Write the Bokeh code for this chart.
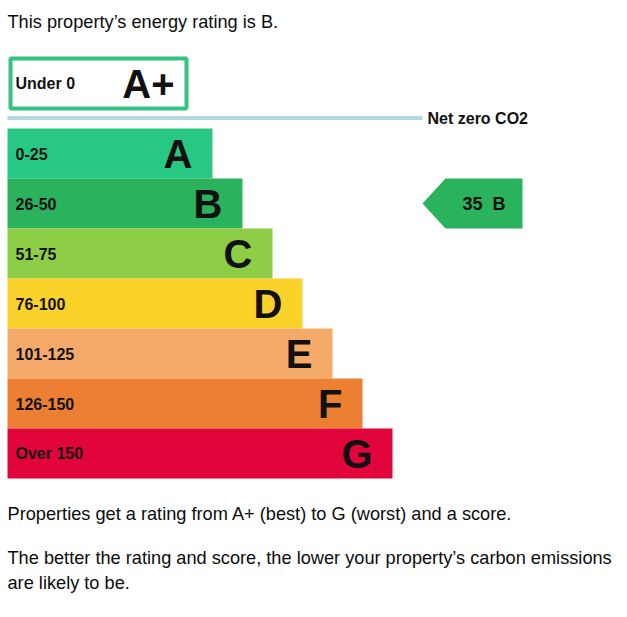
from bokeh.plotting import figure
from bokeh.models import Range1d, ColumnDataSource
from bokeh.core.properties import value
from bokeh.embed import file_html
from bokeh.resources import INLINE

# ---- data ----
bands = ["A", "B", "C", "D", "E", "F", "G"]
band_ranges = ["0-25", "26-50", "51-75", "76-100", "101-125", "126-150", "Over 150"]
band_colors = ["#26c883", "#2bb25c", "#8dce46", "#fbd22a", "#f6aa69", "#ec7f32", "#e2053c"]
top_band = "A+"
top_range = "Under 0"
net_zero_label = "Net zero CO2"
current_score = 35
current_band = "B"
title_text = "This property\u2019s energy rating is B."
body_lines = [
    "Properties get a rating from A+ (best) to G (worst) and a score.",
    "The better the rating and score, the lower your property\u2019s carbon emissions",
    "are likely to be.",
]

# ---- layout (pixel-like coordinates, y downwards) ----
W, H = 619, 605
p = figure(width=W, height=H, output_backend="svg", toolbar_location=None,
           x_range=Range1d(0, W), y_range=Range1d(H, 0),
           min_border=0)
p.axis.visible = False
p.grid.visible = False
p.outline_line_color = None
p.background_fill_color = "white"
p.border_fill_color = "white"

BODY_FONT = value("Liberation Sans")
BOLD_FONT = value("Liberation Sans")

LEFT = 7
BAND_TOP0 = 128
BAND_H = 50
BAND_W0 = 205
BAND_STEP = 30

idx = list(range(len(bands)))
tops = [BAND_TOP0 + i * BAND_H for i in idx]
bottoms = [t + BAND_H for t in tops]
rights = [LEFT + BAND_W0 + i * BAND_STEP for i in idx]
mids = [t + BAND_H / 2 for t in tops]

src = ColumnDataSource(dict(top=tops, bottom=bottoms, right=rights, left=[LEFT] * len(idx),
                            color=band_colors, mid=mids, band=bands, rng=band_ranges,
                            lx=[LEFT + 8] * len(idx), bx=[r - 20 for r in rights]))
p.quad(left="left", right="right", top="top", bottom="bottom", fill_color="color",
       line_color=None, source=src)
p.text(x="lx", y="mid", text="rng", source=src, text_font=BOLD_FONT, text_font_style="bold",
       text_font_size="16px", text_baseline="middle", text_align="left", text_color="#111111")
p.text(x="bx", y="mid", text="band", source=src, text_font=BOLD_FONT, text_font_style="bold",
       text_font_size="40px", text_baseline="middle", text_align="right", text_color="#111111")

# A+ box
p.quad(left=[10], right=[186], top=[58], bottom=[108], fill_color="white",
       line_color="#33c481", line_width=4)
p.text(x=[15], y=[83], text=[top_range], text_font=BOLD_FONT, text_font_style="bold",
       text_font_size="16px", text_baseline="middle", text_align="left", text_color="#111111")
p.text(x=[174], y=[83], text=[top_band], text_font=BOLD_FONT, text_font_style="bold",
       text_font_size="40px", text_baseline="middle", text_align="right", text_color="#111111")

# net zero line
p.segment(x0=[LEFT], y0=[117.5], x1=[422], y1=[117.5], line_color="#b0d8df", line_width=4)
p.text(x=[427], y=[117.5], text=[net_zero_label], text_font=BOLD_FONT, text_font_style="bold",
       text_font_size="16px", text_baseline="middle", text_align="left", text_color="#111111")

# current rating arrow
bi = bands.index(current_band)
at, ab = tops[bi], bottoms[bi]
am = (at + ab) / 2
tip_x, shoulder_x, end_x = 422, 445, 522
p.patch(x=[tip_x, shoulder_x, end_x, end_x, shoulder_x],
        y=[am, at, at, ab, ab], fill_color=band_colors[bi], line_color=None)
p.text(x=[(shoulder_x + end_x) / 2], y=[am], text=[f"{current_score}\u00a0\u00a0{current_band}"],
       text_font=BOLD_FONT, text_font_style="bold", text_font_size="18px",
       text_baseline="middle", text_align="center", text_color="#111111")

# texts
p.text(x=[7], y=[21], text=[title_text], text_font=BODY_FONT, text_font_size="18.2px",
       text_baseline="middle", text_align="left", text_color="#0b0c0c")
body_y = [513, 557, 582]
p.text(x=[7] * 3, y=body_y, text=body_lines, text_font=BODY_FONT, text_font_size="18.2px",
       text_baseline="middle", text_align="left", text_color="#0b0c0c")

open("out.html", "w").write(file_html(p, INLINE))
